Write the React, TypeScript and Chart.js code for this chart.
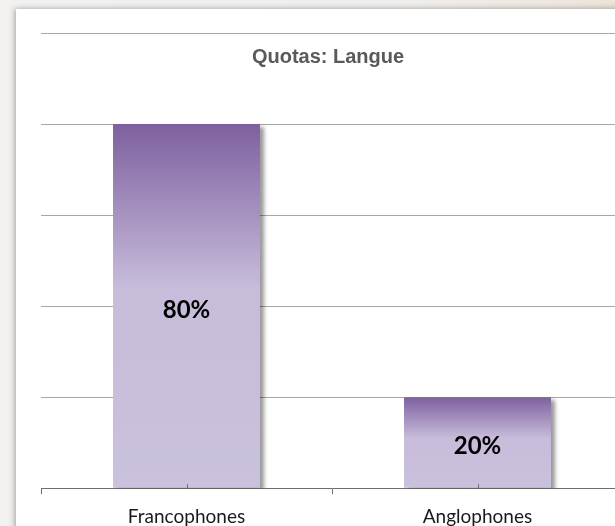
import React, { useEffect, useRef } from "react";
import { Chart, registerables } from "chart.js";

Chart.register(...registerables);

const categories = ["Francophones", "Anglophones"];
const values = [80, 20];
const valueLabels = ["80%", "20%"];
const chartTitle = "Quotas: Langue";

const CANVAS_W = 680;
const CANVAS_H = 526;

export default function App() {
  const ref = useRef<HTMLCanvasElement | null>(null);

  useEffect(() => {
    const canvas = ref.current;
    if (!canvas) return;

    const backgroundPlugin = {
      id: "bgPanel",
      beforeDraw(chart: any) {
        const ctx = chart.ctx;
        ctx.save();
        const g = ctx.createLinearGradient(0, 0, CANVAS_W, 0);
        g.addColorStop(0, "#f3f2f0");
        g.addColorStop(0.6, "#f1efed");
        g.addColorStop(1, "#ece2d6");
        ctx.fillStyle = g;
        ctx.fillRect(0, 0, CANVAS_W, CANVAS_H);
        ctx.shadowColor = "rgba(0,0,0,0.35)";
        ctx.shadowBlur = 6;
        ctx.shadowOffsetX = -1;
        ctx.shadowOffsetY = 0;
        ctx.fillStyle = "#ffffff";
        ctx.fillRect(16, 9, CANVAS_W + 50, CANVAS_H + 50);
        ctx.restore();
      },
    };

    const shadowPlugin = {
      id: "barShadow",
      beforeDatasetsDraw(chart: any) {
        const ctx = chart.ctx;
        ctx.save();
        ctx.shadowColor = "rgba(0,0,0,0.4)";
        ctx.shadowBlur = 4;
        ctx.shadowOffsetX = 4;
        ctx.shadowOffsetY = 3;
      },
      afterDatasetsDraw(chart: any) {
        const ctx = chart.ctx;
        ctx.restore();
        const meta = chart.getDatasetMeta(0);
        const axisY = chart.scales.x.top;
        ctx.save();
        ctx.strokeStyle = "#6e6e6e";
        ctx.lineWidth = 1;
        meta.data.forEach((bar: any, i: number) => {
          const x = Math.round(bar.x) + 0.5;
          ctx.beginPath();
          ctx.moveTo(x, axisY - 4);
          ctx.lineTo(x, axisY);
          ctx.stroke();
          ctx.fillStyle = "#000000";
          ctx.font = "bold 24px Lato";
          ctx.textAlign = "center";
          ctx.textBaseline = "middle";
          ctx.fillText(valueLabels[i], bar.x, (bar.y + bar.base) / 2 + 4);
        });
        ctx.fillStyle = "#595959";
        ctx.font = "bold 20px 'Liberation Sans'";
        ctx.textAlign = "center";
        ctx.textBaseline = "middle";
        const cx = (chart.chartArea.left + chart.chartArea.right) / 2 - 4;
        ctx.fillText(chartTitle, cx, 57);
        ctx.restore();
      },
    };

    const chart = new Chart(canvas, {
      type: "bar",
      data: {
        labels: categories,
        datasets: [
          {
            data: values,
            backgroundColor: (c: any) => {
              const chart = c.chart;
              if (!chart.chartArea || c.parsed == null) return "#c9bfdc";
              const ys = chart.scales.y;
              const top = ys.getPixelForValue(c.parsed.y);
              const base = ys.getPixelForValue(0);
              const g = chart.ctx.createLinearGradient(0, top, 0, base);
              g.addColorStop(0, "#7e609f");
              g.addColorStop(0.45, "#c7bcda");
              g.addColorStop(1, "#cac1dc");
              return g;
            },
            borderWidth: 0,
            barPercentage: 0.505,
            categoryPercentage: 1,
          },
        ],
      },
      options: {
        responsive: false,
        devicePixelRatio: 1,
        animation: false,
        layout: { padding: { left: 41, right: CANVAS_W - 623, top: 33, bottom: -13 } },
        plugins: {
          legend: { display: false },
          title: { display: false },
          tooltip: { enabled: false },
        },
        scales: {
          x: {
            grid: {
              offset: true,
              drawOnChartArea: false,
              drawTicks: true,
              tickLength: 6,
              color: "#6e6e6e",
            },
            border: { display: true, color: "#6e6e6e", width: 1 },
            ticks: {
              color: "#1a1a1a",
              font: { family: "Lato", size: 19 },
              padding: 11,
            },
          },
          y: {
            min: 0,
            max: 100,
            ticks: { display: false, stepSize: 20 },
            grid: {
              drawTicks: false,
              color: (c: any) => (c.tick && c.tick.value === 0 ? "rgba(0,0,0,0)" : "#a6a6a6"),
              lineWidth: 1,
            },
            border: { display: false },
          },
        },
      },
      plugins: [backgroundPlugin, shadowPlugin],
    });

    return () => chart.destroy();
  }, []);

  return (
    <div
      style={{
        position: "fixed",
        left: 0,
        top: 0,
        width: 615,
        height: 526,
        overflow: "hidden",
      }}
    >
      <canvas
        ref={ref}
        width={CANVAS_W}
        height={CANVAS_H}
        style={{ width: CANVAS_W, height: CANVAS_H, display: "block" }}
      />
    </div>
  );
}
